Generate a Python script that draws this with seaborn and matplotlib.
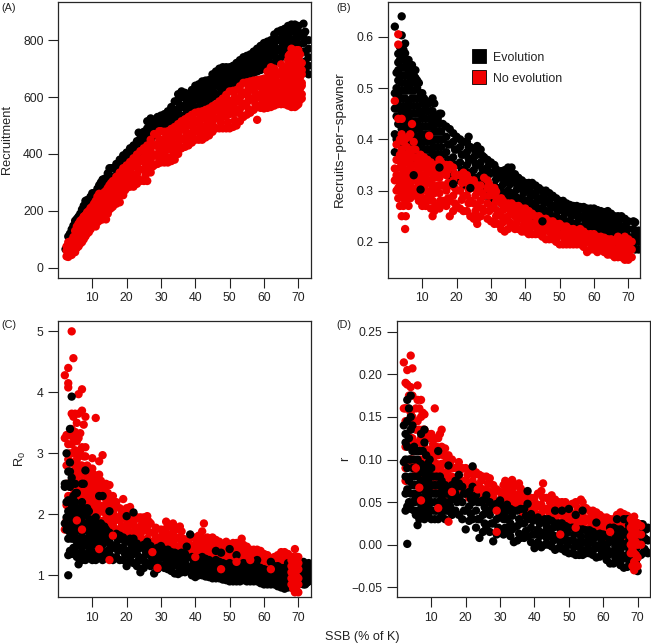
# =====================================================
# SSB VS RECRUITMENT / GROWTH, EVOLUTION AND NO EVOLUTION
# =====================================================

import pandas as pd
import matplotlib
matplotlib.use("Agg")
import matplotlib.pyplot as plt
from matplotlib.lines import Line2D
import seaborn as sns

# -----------------------------
# PANEL A VALUES
# -----------------------------

a_evo_x = [2.2, 3, 4, 5, 6, 7, 8, 9, 10, 11, 12, 13, 14, 15, 16, 18, 20, 22, 23.5, 24, 26, 28, 30, 32, 34, 36, 38, 40, 42, 44, 46, 48, 50, 52, 54, 56, 58, 60, 62, 64, 66, 68, 70, 71.5, 73]
a_evo_y = [[65], [80, 110], [105, 135], [130, 165], [150, 180], [170, 205], [190, 235], [205, 240], [225, 262], [240, 265], [255, 290], [270, 310], [285, 315], [300, 350], [310, 350],
           [335, 355, 380], [365, 385, 405], [390, 410, 430], [475], [410, 435, 455], [440, 470, 490, 515], [465, 495, 520], [490, 515, 535], [500, 525, 550], [505, 530, 555, 585],
           [530, 565, 600, 620], [540, 570, 600], [560, 590, 615, 640], [575, 600, 630, 655], [590, 620, 640, 660], [605, 640, 665, 690], [620, 650, 680, 705], [630, 660, 685, 705],
           [650, 675, 700, 720], [665, 690, 715, 740], [680, 705, 730, 750], [690, 715, 745, 770], [700, 730, 760, 790], [715, 745, 775, 800], [730, 765, 800, 830], [750, 780, 810, 840],
           [770, 800, 830, 855], [780, 810, 830, 850], [700, 760, 790, 820, 858], [680, 710, 740, 770, 800]]

a_evo2_x = [3.5, 4.5, 5.5, 6.5, 7.5, 8.5, 9.5, 10.5, 11.5, 12.5, 13.5, 14.5, 15.5, 17, 19, 21, 23, 25, 27, 29, 31, 33, 35, 37, 39, 41, 43, 45, 47, 49, 51, 53, 55, 57, 59, 61, 63, 65, 67, 69, 72]
a_evo2_y = [[95, 120], [118, 148], [140, 172], [160, 190], [180, 218], [198, 238], [215, 250], [232, 262], [248, 278], [262, 300], [278, 312], [292, 332], [305, 350],
            [325, 345, 365], [350, 372, 395], [378, 400, 420], [400, 425, 445], [425, 450, 478], [450, 480, 510, 525], [475, 505, 530], [495, 520, 540], [505, 535, 565], [520, 555, 590, 610],
            [535, 570, 600, 615], [550, 580, 610, 625], [565, 595, 625, 645], [580, 610, 640, 658], [600, 630, 655, 680], [610, 645, 675, 700], [625, 655, 685, 705], [640, 670, 695, 710],
            [655, 685, 710, 730], [670, 700, 725, 745], [685, 710, 740, 760], [695, 725, 755, 780], [705, 740, 770, 795], [720, 755, 790, 820], [740, 770, 805, 835], [760, 790, 820, 850],
            [775, 805, 835, 855], [690, 725, 760, 800, 830]]

a_evo3_x = [9, 12, 15, 17.5, 19.5, 21.5, 23.5, 25.5, 27.5, 29.5, 31.5, 33.5, 35.5, 37.5, 39.5, 41.5, 43.5, 45.5, 47.5, 49.5, 51.5, 53.5, 55.5, 57.5, 59.5, 61.5, 63.5, 65.5, 67.5, 69.5]
a_evo3_y = [[222], [272], [325], [335, 355], [361, 384], [389, 410], [412, 435], [437, 464], [465, 495, 518], [490, 518], [507, 530], [520, 550], [537, 572, 600], [552, 585, 608], [565, 595, 618],
            [580, 610, 635], [595, 625, 650], [615, 642, 668], [628, 660, 688], [640, 670, 695], [655, 682, 703], [670, 697, 720], [685, 712, 735], [697, 725, 750], [710, 740, 768], [722, 755, 782],
            [738, 772, 805], [755, 788, 820], [775, 805, 835], [790, 820, 845]]

a_noevo_x = [2.5, 3, 4, 5, 6, 7, 8, 9, 10, 11, 12, 13, 14, 15, 16, 18, 20, 22, 24, 26, 28, 29.5, 30, 32, 34, 36, 38, 40, 42, 44, 46, 48, 50, 52, 54, 56, 58, 60, 62, 64, 66, 67, 68, 69, 70, 71]
a_noevo_y = [[40, 60, 75], [38, 55, 90], [45, 70, 95], [55, 80, 105, 130], [75, 100, 130, 155], [90, 115, 140, 170], [110, 135, 160, 185], [125, 150, 180, 200], [145, 165, 190, 215],
             [145, 175, 205, 235], [165, 195, 225, 260], [170, 200, 235, 250], [170, 210, 240, 270], [205, 240, 270, 290], [215, 250, 285, 305], [230, 270, 305, 335], [280, 310, 340, 360],
             [285, 320, 355, 385], [305, 345, 375, 410], [305, 350, 390, 430], [360, 395, 430, 470], [480], [370, 405, 440, 480], [370, 415, 450, 480], [380, 420, 460, 495], [420, 450, 485, 515],
             [430, 465, 500, 530], [450, 480, 510, 545], [450, 490, 525, 550], [465, 500, 535, 560], [490, 525, 555, 575], [490, 530, 565, 595], [490, 540, 575, 620], [500, 545, 585, 625],
             [530, 570, 610, 650], [545, 590, 625, 655], [520, 565, 600, 640, 660], [560, 595, 630, 665], [565, 600, 635, 670, 705], [575, 610, 645, 680], [575, 620, 660, 705],
             [570, 610, 650, 690, 730], [565, 605, 650, 700, 770], [565, 600, 640, 680, 720, 760], [575, 620, 660, 700, 740, 765], [595, 640, 680, 720]]

a_noevo2_x = [3.5, 4.5, 5.5, 6.5, 7.5, 8.5, 9.5, 10.5, 11.5, 12.5, 13.5, 14.5, 15.5, 17, 19, 21, 23, 25, 27, 29, 31, 33, 35, 37, 39, 41, 43, 45, 47, 49, 51, 53, 55, 57, 59, 61, 63, 65, 67.5, 68.5, 69.5, 70.5]
a_noevo2_y = [[50, 72, 92], [55, 80, 108], [70, 95, 125, 145], [85, 110, 135, 165], [100, 125, 150, 180], [120, 145, 170, 195], [135, 160, 185, 210], [150, 175, 200, 225], [160, 185, 215, 250],
              [170, 200, 225, 255], [172, 205, 235, 265], [190, 225, 255, 280], [210, 245, 275, 298], [225, 255, 285, 320], [255, 290, 320, 350], [285, 315, 345, 372], [295, 330, 365, 398],
              [305, 345, 385, 420], [335, 375, 410, 450], [365, 400, 435, 470], [370, 410, 445, 478], [375, 418, 455, 488], [400, 435, 470, 505], [425, 458, 492, 522], [440, 472, 505, 538],
              [450, 485, 518, 548], [458, 495, 530, 555], [478, 512, 545, 568], [490, 528, 560, 585], [490, 535, 570, 608], [495, 542, 580, 622], [515, 558, 598, 638], [538, 580, 618, 652],
              [555, 595, 632, 658], [562, 598, 635, 662], [562, 598, 632, 668, 690], [570, 605, 640, 675, 700], [575, 615, 652, 690, 715], [590, 630, 670, 710, 750], [585, 625, 665, 705, 745],
              [570, 610, 650, 690, 730, 765], [590, 630, 670, 710, 750]]

a_noevo3_x = [5.2, 6.2, 7.2, 8.2, 9.2, 10.2, 11.2, 12.2, 13.2, 14.2, 15.2, 16.2, 17.5, 19.5, 21.5, 23.5, 25.5, 27.5, 29.5, 31.5, 33.5, 35.5, 37.5, 39.5, 41.5, 43.5, 45.5, 47.5, 49.5, 51.5, 53.5, 55.5, 57.5, 59.5, 61.5, 63.5, 65.5, 67.2, 69.2, 71]
a_noevo3_y = [[68, 92, 118], [88, 115, 142], [102, 128, 155], [122, 148, 172], [138, 165, 190], [155, 178, 202], [160, 190, 220], [180, 210, 242], [185, 218, 243], [190, 225, 255], [222, 255, 280], [232, 268, 295],
              [240, 270, 302], [272, 305, 335], [300, 330, 358], [312, 348, 382], [325, 365, 402], [355, 392, 430], [382, 418, 452], [390, 428, 462], [396, 436, 472], [418, 452, 488], [442, 475, 507], [456, 488, 522],
              [468, 502, 533], [476, 512, 543], [495, 528, 556], [509, 544, 572], [512, 552, 590], [518, 561, 600], [536, 578, 618], [558, 600, 635], [575, 613, 645], [580, 616, 648], [580, 615, 650, 680],
              [588, 622, 658, 688], [595, 634, 672, 702], [595, 630, 670, 710, 745], [585, 620, 660, 700, 740, 760], [610, 650, 695]]

# -----------------------------
# PANEL B VALUES
# -----------------------------

b_evo_x = [2, 3, 4, 5, 6, 7, 8, 9, 10, 11, 12, 13, 14, 15, 16, 18, 20, 22, 23.5, 24, 26, 28, 30, 32, 34, 36, 38, 40, 42, 44, 46, 48, 50, 52, 54, 56, 58, 60, 62, 64, 66, 68, 70, 71.5, 73]
b_evo_y = [[.375, .41, .46, .49, .62], [.43, .46, .49, .515, .535, .55, .567], [.39, .42, .45, .48, .51, .54, .56, .603, .64], [.39, .42, .45, .48, .51, .54, .568, .587],
           [.38, .41, .44, .47, .50, .53, .555], [.36, .39, .42, .45, .48, .51, .545], [.36, .39, .42, .45, .48, .52, .535], [.36, .39, .42, .45, .48, .51], [.35, .38, .41, .44, .47, .49],
           [.35, .38, .41, .44, .465], [.35, .38, .41, .44, .47], [.34, .37, .40, .43, .455, .48], [.34, .37, .40, .43], [.34, .37, .40, .43, .45], [.34, .37, .40, .43], [.33, .36, .39, .42],
           [.32, .35, .38, .405], [.31, .34, .37, .395], [.405], [.31, .335, .36, .385], [.30, .325, .35, .37, .387], [.29, .315, .34, .365], [.285, .31, .335, .355], [.28, .305, .33],
           [.27, .295, .32, .34], [.27, .295, .32, .345], [.26, .285, .31, .325], [.255, .28, .30, .315], [.25, .275, .295, .315], [.245, .265, .285, .305], [.24, .26, .28, .30],
           [.23, .25, .27, .29], [.225, .245, .265, .28], [.22, .24, .26, .275], [.215, .235, .255, .27], [.21, .23, .25, .268], [.21, .23, .25, .265], [.205, .225, .245, .265],
           [.205, .225, .245, .26], [.20, .22, .24, .26], [.20, .22, .235, .25], [.195, .215, .23, .25], [.195, .21, .225, .24], [.19, .21, .225, .24], [.185, .20, .215, .222]]

b_evo2_x = [2.5, 3.5, 4.5, 5.5, 6.5, 7.5, 8.5, 9.5, 10.5, 11.5, 12.5, 13.5, 14.5, 15.5, 17, 19, 21, 23, 25, 27, 29, 31, 33, 35, 37, 39, 41, 43, 45, 47, 49, 51, 53, 55, 57, 59, 61, 63, 65, 67, 69, 72]
b_evo2_y = [[.40, .445, .475, .50, .53], [.405, .435, .465, .495, .525, .555, .58], [.405, .435, .465, .495, .525, .555, .575], [.395, .425, .455, .495, .525, .55], [.375, .405, .435, .465, .495, .52, .54],
            [.375, .405, .435, .465, .495, .525], [.375, .405, .435, .465, .50, .515], [.365, .395, .425, .455, .49], [.365, .395, .425, .455, .48], [.365, .395, .425, .455], [.365, .395, .425, .455, .475],
            [.355, .385, .415, .445, .47], [.355, .385, .415, .44], [.355, .385, .415, .45], [.345, .375, .405, .425], [.335, .365, .395, .412], [.325, .355, .385, .40], [.32, .35, .375, .395],
            [.31, .34, .365, .382], [.30, .33, .355, .38], [.29, .32, .345, .36], [.28, .31, .335, .35], [.275, .30, .325, .338], [.27, .30, .325, .345], [.265, .29, .315, .332], [.26, .285, .305, .32],
            [.25, .275, .30, .315], [.245, .27, .29, .31], [.24, .265, .285, .30], [.235, .255, .275, .295], [.23, .25, .27, .285], [.225, .245, .265, .28], [.22, .24, .26, .272], [.215, .235, .255, .27],
            [.21, .23, .25, .268], [.205, .225, .245, .265], [.205, .225, .245, .262], [.20, .22, .24, .258], [.20, .22, .24, .255], [.195, .215, .235, .25], [.195, .215, .23, .245], [.185, .205, .22, .238]]

b_evo3_x = [17.5, 19.5, 21.5, 23.5, 25.5, 27.5, 29.5, 31.5, 33.5, 35.5, 37.5, 39.5, 41.5, 43.5, 45.5, 47.5, 49.5, 51.5, 53.5, 55.5, 57.5, 59.5, 61.5, 63.5, 65.5, 67.5, 69.5]
b_evo3_y = [[.36, .39], [.35, .38], [.34, .37], [.335, .362, .385], [.325, .352, .374], [.315, .342, .368], [.305, .332, .352], [.295, .322, .342], [.288, .312, .332], [.285, .312, .335], [.278, .302, .325],
            [.272, .295, .312], [.262, .288, .308], [.258, .28, .30], [.252, .275, .292], [.245, .265, .285], [.24, .26, .278], [.235, .255, .272], [.23, .25, .266], [.225, .245, .262], [.22, .24, .26],
            [.215, .235, .255], [.215, .235, .254], [.21, .23, .25], [.21, .23, .248], [.205, .225, .243], [.205, .222, .238]]

b_noevo_x = [2, 3, 4, 5, 6, 7, 8, 9, 10, 11, 12, 13, 14, 15, 16, 18, 20, 22, 24, 26, 28, 30, 32, 34, 36, 38, 40, 42, 44, 46, 48, 50, 52, 54, 56, 58, 60, 62, 64, 66, 68, 69, 70, 71]
b_noevo_y = [[.32, .343, .475], [.285, .305, .33, .36, .44, .585, .605], [.25, .29, .32, .35, .38, .41, .44], [.225, .28, .31, .34, .37, .40], [.27, .30, .33, .36, .405], [.29, .32, .35, .38, .43],
             [.29, .32, .35, .38], [.28, .31, .34, .36], [.27, .30, .33, .36], [.27, .30, .33, .355], [.29, .32, .35, .407], [.25, .28, .31, .34], [.27, .30, .33, .35], [.265, .295, .325, .36],
             [.28, .31, .34], [.25, .28, .31, .35], [.27, .30, .33], [.26, .29, .32, .335], [.25, .28, .31], [.235, .245, .27, .30], [.26, .29, .325], [.24, .27, .30], [.235, .26, .285],
             [.22, .245, .27], [.23, .255, .275], [.225, .25, .27], [.22, .245, .265], [.215, .235, .255], [.215, .235, .25], [.205, .225, .245], [.205, .225, .24], [.195, .215, .235],
             [.195, .215, .23], [.195, .21, .225], [.195, .21, .225], [.18, .20, .215], [.185, .20, .215], [.185, .20, .21], [.175, .19, .205], [.17, .185, .20], [.17, .185, .205],
             [.165, .18, .195, .21], [.165, .18, .195, .205], [.17, .185, .20]]

b_noevo2_x = [2.5, 3.5, 4.5, 5.5, 6.5, 7.5, 8.5, 9.5, 10.5, 11.5, 12.5, 13.5, 14.5, 15.5, 17, 19, 21, 23, 25, 27, 29, 31, 33, 35, 37, 39, 41, 43, 45, 47, 49, 51, 53, 55, 57, 59, 61, 63, 65, 67, 68.5, 69.5]
b_noevo2_y = [[.30, .33, .36, .39], [.27, .31, .345, .37, .40], [.27, .30, .335, .365, .395], [.29, .325, .355, .385], [.285, .315, .345, .375, .41], [.30, .335, .365, .395], [.30, .335, .365],
              [.29, .325, .35, .37], [.28, .315, .345, .365], [.28, .315, .34, .36], [.265, .30, .335, .355], [.26, .295, .325, .345], [.27, .31, .34], [.275, .31, .335, .355], [.27, .30, .33, .35],
              [.26, .29, .32, .345], [.265, .30, .33], [.26, .29, .315, .33], [.245, .275, .305, .32], [.25, .28, .31], [.245, .275, .305, .32], [.235, .265, .29, .305], [.225, .25, .275, .285],
              [.225, .25, .275], [.225, .25, .27], [.22, .245, .265], [.215, .24, .26], [.215, .235, .25], [.21, .23, .245], [.205, .225, .24], [.20, .22, .235], [.195, .215, .23], [.195, .21, .225],
              [.195, .21, .222], [.19, .205, .22], [.185, .20, .215], [.18, .195, .21], [.18, .195, .208], [.175, .19, .205], [.17, .185, .20, .21], [.175, .19, .205], [.17, .185, .20]]

b_noevo3_x = [5.2, 7.2, 9.2, 11.2, 13.2, 15.2, 17.5, 19.5, 21.5, 23.5, 25.5, 27.5, 29.5, 31.5, 33.5, 35.5, 37.5, 39.5, 41.5, 43.5, 45.5, 47.5, 49.5, 51.5, 53.5, 55.5, 57.5, 59.5, 61.5, 63.5, 65.5, 67.5, 69.2]
b_noevo3_y = [[.25, .295, .325, .355], [.305, .335, .365], [.295, .325, .35], [.285, .315, .342], [.265, .295, .325], [.28, .31, .342], [.285, .315, .34], [.275, .305, .332], [.282, .315], [.275, .302, .322],
              [.26, .29, .312], [.265, .295], [.26, .29, .312], [.25, .278, .298], [.238, .262, .28], [.238, .262], [.238, .26], [.232, .255], [.228, .25], [.225, .243], [.22, .238], [.215, .232], [.21, .228],
              [.205, .222], [.202, .218], [.202, .216], [.198, .212], [.192, .208], [.188, .203], [.188, .202], [.182, .198], [.178, .192, .205], [.172, .188, .2]]

# black points that sit on top of the red ones
b_late_x = [7.5, 9.5, 15, 19, 24, 45]
b_late_y = [[.33], [.302], [.345], [.313], [.305], [.24]]

# -----------------------------
# PANEL C VALUES
# -----------------------------

c_noevo_x = [2, 2.5, 3, 4, 4.5, 5, 6, 6.5, 7, 7.5, 8, 9, 10, 11, 12, 13, 14, 15, 16, 17, 19, 21, 23, 25, 26, 28, 30, 31.5, 33.5, 35.5, 37, 39, 41, 42.5, 45, 47, 49, 51, 53.5, 55, 57, 59, 61, 63, 65, 67]
c_noevo_y = [[4.28, 3.25, 1.75], [3.3], [4.4, 4.15, 4.08, 3.15, 2.9, 2.3], [5.0, 3.65, 3.4, 3.15, 2.85, 2.55, 2.3, 2.05], [4.56, 3.6], [3.65, 3.35, 3.05, 2.8, 2.55, 2.3, 2.05],
             [3.97, 3.65, 3.25, 2.95, 2.7, 2.4, 2.15], [3.33], [4.05, 3.7, 3.1, 2.8, 2.5, 2.2], [3.47], [3.6, 3.1, 2.95, 2.7, 2.4, 2.15, 1.9], [2.7, 2.45, 2.2, 1.95], [2.92, 2.75, 2.5, 2.25, 2.0],
             [3.58, 2.6, 2.35, 2.1, 1.85], [2.87, 2.65, 2.4, 2.15, 1.9], [2.97, 2.5, 2.3, 2.05, 1.8], [2.5, 2.25, 2.0, 1.8], [2.48, 2.2, 1.95, 1.75], [2.3, 2.05, 1.85, 1.7], [2.2, 1.95, 1.75],
             [2.25, 2.0, 1.8, 1.65], [2.12, 1.9, 1.7, 1.55], [1.95, 1.75, 1.6], [1.95, 1.75, 1.55], [1.97, 1.8, 1.6], [1.7, 1.55, 1.4], [1.75, 1.6, 1.45], [1.88, 1.7, 1.55], [1.85, 1.7, 1.55, 1.4],
             [1.8, 1.62, 1.48, 1.35], [1.55, 1.4], [1.62, 1.48, 1.35], [1.65, 1.5, 1.35], [1.85, 1.6, 1.45, 1.3], [1.62, 1.48, 1.33], [1.55, 1.4, 1.25], [1.55, 1.4, 1.28], [1.53, 1.38, 1.25],
             [1.6, 1.45, 1.3], [1.47, 1.33, 1.2], [1.42, 1.28, 1.15], [1.4, 1.27, 1.15], [1.33, 1.2, 1.05], [1.3, 1.17, 1.03], [1.38, 1.25, 1.1], [1.35, 1.2, 1.05]]

c_noevo2_x = [2.5, 3.5, 4.5, 5.5, 6.5, 7.5, 8.5, 9.5, 10.5, 11.5, 12.5, 13.5, 14.5, 15.5, 16.5, 18, 20, 22, 24, 27, 29, 31, 32.5, 34.5, 36.5, 38, 40, 43.5, 46, 48, 50, 52, 54, 56, 58, 60, 62, 64, 66]
c_noevo2_y = [[2.8, 2.5, 2.15, 1.9], [3.3, 3.0, 2.7, 2.45, 2.2, 2.0], [3.25, 3.0, 2.7, 2.42, 2.15], [3.5, 3.2, 2.9, 2.65, 2.4, 2.15], [3.05, 2.8, 2.55, 2.25], [2.95, 2.65, 2.35, 2.05], [2.8, 2.55, 2.3, 2.05],
              [2.6, 2.35, 2.1, 1.85], [2.65, 2.4, 2.15, 1.9], [2.5, 2.25, 2.0], [2.55, 2.3, 2.05, 1.85], [2.4, 2.15, 1.9], [2.35, 2.1, 1.85], [2.2, 2.0, 1.8], [2.15, 1.9], [2.1, 1.9, 1.7], [2.1, 1.9, 1.7],
              [2.0, 1.85, 1.65], [1.95, 1.8, 1.65], [1.85, 1.7, 1.55], [1.62, 1.48], [1.75, 1.6, 1.45], [1.8, 1.62, 1.48], [1.75, 1.6, 1.45], [1.6, 1.45], [1.58, 1.42], [1.62, 1.48, 1.35], [1.62, 1.5, 1.35],
              [1.58, 1.42, 1.28], [1.5, 1.35], [1.48, 1.32], [1.53, 1.4, 1.28], [1.5, 1.35, 1.22], [1.42, 1.3], [1.42, 1.28, 1.15], [1.35, 1.22, 1.1], [1.28, 1.15], [1.33, 1.2, 1.08], [1.38, 1.25, 1.12]]

c_noevo3_x = [16.2, 18.5, 20.5, 22.5, 24.5, 26.5, 28.5, 30.5, 32, 34, 36, 38.5, 40.5, 42, 44.5, 46.5, 48.5, 50.5, 52.5, 54.5, 56.5, 58.5, 60.5, 62.5, 64.5, 66.5]
c_noevo3_y = [[2.0, 1.78], [2.0, 1.8], [2.0, 1.8, 1.62], [1.92, 1.75, 1.6], [1.88, 1.72, 1.58], [1.88, 1.7, 1.55], [1.78, 1.62, 1.48], [1.68, 1.52], [1.8, 1.65, 1.5], [1.78, 1.63, 1.48], [1.72, 1.55, 1.4],
              [1.5, 1.38], [1.55, 1.42], [1.72, 1.55, 1.4], [1.55, 1.42], [1.5, 1.35], [1.42, 1.3], [1.42, 1.28], [1.46, 1.33], [1.42, 1.28], [1.36, 1.24], [1.35, 1.22], [1.28, 1.16], [1.22, 1.1], [1.26, 1.14], [1.3, 1.18]]

c_evo_x = [2, 2.5, 3, 3.5, 4, 5, 6, 7, 8, 9, 10, 11, 12, 13, 14, 15, 16, 18, 20, 22, 24, 26, 28, 30, 32, 34, 36, 37.5, 38.5, 40, 42, 44, 46, 47.5, 48, 50, 52, 54, 56, 58, 60, 62, 64, 66, 68, 70, 71, 72, 73]
c_evo_y = [[2.5, 2.45, 1.85], [3.0, 1.95], [1.0, 1.33, 1.6, 1.8, 2.05, 2.23, 2.5, 2.7], [3.4, 2.85], [3.93, 1.35, 1.6, 1.85, 2.1, 2.6], [1.45, 1.7, 1.95, 2.2, 2.5], [1.18, 1.35, 1.6, 1.85, 2.1],
           [1.25, 1.45, 1.7, 1.95, 2.2, 2.5], [1.25, 1.5, 1.75, 2.0, 2.72], [1.3, 1.55, 1.8, 2.05], [1.25, 1.5, 1.7, 1.9], [1.25, 1.5, 1.7, 1.95], [1.3, 1.55, 1.75, 2.3], [1.25, 1.5, 1.7, 2.3],
           [1.3, 1.55, 1.75], [1.35, 1.55, 1.7, 2.05], [1.25, 1.45, 1.65], [1.25, 1.45, 1.65], [1.15, 1.35, 1.55, 1.97], [1.2, 1.4, 1.6, 2.03], [1.05, 1.25, 1.45], [1.2, 1.4, 1.55],
           [1.03, 1.22, 1.42], [1.15, 1.3, 1.48], [1.1, 1.25, 1.42], [1.03, 1.2, 1.37], [1.05, 1.2, 1.37], [1.1, 1.3, 1.47], [1.67], [.97, 1.12, 1.27], [1.0, 1.15, 1.3], [.97, 1.1, 1.25],
           [.95, 1.1, 1.25, 1.4], [1.37], [.93, 1.05, 1.2], [.9, 1.05, 1.2, 1.43], [.9, 1.05, 1.33], [.92, 1.05, 1.2], [.9, 1.03, 1.17], [.9, 1.02, 1.15, 1.25], [.85, .97, 1.1],
           [.85, .97, 1.1, 1.22], [.82, .92, 1.03, 1.15], [.78, .88, 1.0, 1.12], [.8, .9, 1.05, 1.2], [.85, .95, 1.1], [.9, 1.0, 1.1, 1.2], [.85, .95, 1.05, 1.15], [.9, 1.0, 1.1, 1.2]]

c_evo2_x = [2.5, 3.5, 4.5, 5.5, 6.5, 7.5, 8.5, 9.5, 10.5, 11.5, 12.5, 13.5, 14.5, 15.5, 17, 19, 21, 23, 25, 27, 29, 31, 33, 35, 37, 39, 41, 43, 45, 47, 49, 51, 53, 55, 57, 59, 61, 63, 65, 67, 71.5, 72.5]
c_evo2_y = [[1.75, 2.2, 2.5], [1.4, 1.7, 1.95, 2.2, 2.45, 2.7], [1.45, 1.75, 2.0, 2.3], [1.3, 1.55, 1.8, 2.05, 2.35], [1.25, 1.5, 1.75, 2.0], [1.35, 1.6, 1.85, 2.1, 2.5], [1.35, 1.6, 1.85, 2.1],
            [1.4, 1.65, 1.85], [1.35, 1.6, 1.8], [1.35, 1.6, 1.85], [1.4, 1.65, 1.85], [1.35, 1.6, 1.8], [1.4, 1.65], [1.3, 1.5, 1.65], [1.3, 1.5, 1.68], [1.25, 1.45, 1.62], [1.25, 1.42, 1.6],
            [1.15, 1.35, 1.52], [1.12, 1.3, 1.5], [1.15, 1.32, 1.48], [1.1, 1.28, 1.45], [1.12, 1.28, 1.42], [1.07, 1.22, 1.38], [1.02, 1.18, 1.35], [1.05, 1.2, 1.35], [1.0, 1.15, 1.3], [1.0, 1.15, 1.28],
            [.98, 1.12, 1.27], [.95, 1.08, 1.22], [.95, 1.08, 1.22], [.92, 1.05, 1.18], [.9, 1.03, 1.15], [.9, 1.03, 1.15], [.9, 1.03, 1.15], [.9, 1.02, 1.14], [.87, 1.0, 1.12], [.85, .97, 1.08],
            [.85, .95, 1.05, 1.15], [.8, .9, 1.0, 1.12], [.8, .9, 1.0, 1.1, 1.2], [.85, .95, 1.05, 1.15, 1.22], [.88, .98, 1.08, 1.18]]

c_evo3_x = [5.2, 7.2, 9.2, 11.2, 13.2, 15.2, 17.5, 19.5, 21.5, 23.5, 25.5, 27.5, 29.5, 31.5, 33.5, 35.5, 37.5, 39.5, 41.5, 43.5, 45.5, 47.5, 49.5, 51.5, 53.5, 55.5, 57.5, 59.5, 61.5, 63.5, 65.5]
c_evo3_y = [[1.58, 1.82, 2.08, 2.35], [1.35, 1.58, 1.82, 2.08], [1.42, 1.68, 1.92], [1.38, 1.6, 1.82], [1.38, 1.6], [1.45, 1.62], [1.4, 1.58], [1.35, 1.55], [1.33, 1.5], [1.25, 1.45], [1.2, 1.4], [1.24, 1.4],
            [1.18, 1.36], [1.2, 1.35], [1.15, 1.3], [1.1, 1.27], [1.12, 1.28], [1.08, 1.22], [1.08, 1.22], [1.05, 1.2], [1.02, 1.15], [1.02, 1.15], [.98, 1.12], [.97, 1.09], [.97, 1.09], [.97, 1.09], [.96, 1.08],
            [.93, 1.06], [.91, 1.02], [.9, 1.0, 1.1], [.85, .95, 1.06]]

# red points that sit on top of the black ones
c_late_x = [5.5, 7, 12, 15, 16, 27.5, 29, 40, 47.5, 52, 56, 62, 68, 68.5, 69, 69.5, 70]
c_late_y = [[1.9], [1.75], [1.43], [1.25], [1.65], [1.38], [1.12], [1.3], [1.1], [1.22], [1.25], [1.1], [.85, .95, 1.05, 1.15, 1.25], [.78, .9, 1.0, 1.1, 1.2, 1.3], [.72, .82, .92, 1.02, 1.12, 1.25, 1.43],
            [.75, .88, .98, 1.08, 1.18, 1.3], [.72, .85, .95, 1.1, 1.2, 1.3]]

# -----------------------------
# PANEL D VALUES
# -----------------------------

d_noevo_x = [2, 2.5, 3, 4, 4.5, 5, 6, 7, 8, 9, 10, 11, 12, 13, 14, 15, 16, 18, 20, 22, 24, 26, 28, 30, 31.5, 33.5, 35.5, 37, 39, 41, 42.5, 45, 47, 49, 51, 53.5, 55, 57, 59, 61, 63, 65, 67]
d_noevo_y = [[.214, .16], [.075, .16], [.205, .188, .16, .13], [.222, .185, .155, .125, .10], [.207, .175], [.145, .12, .095], [.187, .17, .145, .12, .09], [.17, .15, .125, .10, .08],
             [.153, .135, .115, .095, .075], [.13, .11, .09, .072], [.13, .112, .095, .075], [.16, .125, .105, .085, .065], [.125, .105, .085, .07], [.135, .115, .095, .078, .06],
             [.113, .095, .08, .062], [.105, .088, .07, .055], [.10, .08, .065], [.097, .08, .065], [.09, .075, .06], [.09, .075, .06], [.082, .068, .053], [.08, .065, .052], [.07, .057, .045],
             [.062, .05, .04], [.075, .062, .05], [.076, .062, .05, .04], [.072, .06, .048], [.06, .047, .035], [.055, .045, .032], [.06, .045, .033], [.072, .055, .04, .03], [.058, .044, .03],
             [.05, .037, .025], [.05, .037, .025], [.048, .034, .022], [.053, .04, .027], [.043, .03, .018], [.04, .027, .015], [.035, .024, .012], [.032, .02, .008], [.03, .018, .005],
             [.038, .025, .01], [.034, .02, .005]]

d_noevo2_x = [2.5, 3.5, 4.5, 5.5, 6.5, 7.5, 8.5, 9.5, 10.5, 11.5, 12.5, 13.5, 14.5, 15.5, 17, 19, 21, 23, 25, 27, 29, 31, 32.5, 34.5, 36.5, 38, 40, 43.5, 46, 48, 50, 52, 54, 56, 58, 60, 62, 64, 66]
d_noevo2_y = [[.19, .145, .115, .09], [.175, .145, .12, .095], [.15, .125, .10], [.16, .135, .11, .085], [.16, .135, .11, .09], [.155, .135, .115, .09], [.125, .105, .085], [.125, .105, .085, .07],
              [.118, .10, .08], [.115, .095, .075], [.13, .11, .09, .07], [.105, .085, .07], [.10, .08, .065], [.095, .075, .06], [.09, .075, .06], [.09, .075, .06], [.085, .07, .055], [.085, .07, .055],
              [.08, .065, .05], [.078, .062, .05], [.065, .05, .04], [.07, .055, .042], [.073, .06, .046], [.07, .056, .044], [.062, .05, .038], [.055, .042, .03], [.055, .042, .03], [.055, .042, .03],
              [.053, .04, .028], [.05, .035, .022], [.045, .032, .02], [.05, .036, .024], [.05, .035, .02], [.04, .028, .015], [.038, .025, .012], [.032, .02, .008], [.03, .018, .005], [.035, .022, .008],
              [.036, .022, .008]]

d_noevo3_x = [16.2, 18.5, 20.5, 22.5, 24.5, 26.5, 28.5, 30.5, 32, 34, 36, 38.5, 40.5, 42, 44.5, 46.5, 48.5, 50.5, 52.5, 54.5, 56.5, 58.5, 60.5, 62.5, 64.5, 66.5]
d_noevo3_y = [[.09, .072], [.088, .072], [.082, .068], [.082, .068], [.075, .06], [.072, .058], [.063, .05], [.056, .045], [.068, .055], [.068, .055, .045], [.066, .054, .042], [.048, .036], [.048, .036],
              [.063, .047, .035], [.05, .036], [.046, .034], [.042, .028], [.038, .026], [.043, .03], [.042, .027], [.034, .022], [.031, .018], [.026, .014], [.024, .012], [.028, .015], [.029, .015]]

d_evo_x = [2, 2.5, 3, 4, 5, 6, 7, 8, 9, 10, 11, 12, 13, 14, 15, 16, 18, 20, 22, 24, 26, 28, 30, 32, 34, 36, 38, 40, 42, 44, 46, 48, 50, 52, 54, 56, 58, 60, 62, 64, 66, 68, 70, 71, 72, 73]
d_evo_y = [[.14, .097], [.04, .13, .08], [.001, .045, .065, .09, .115, .145, .17], [.042, .06, .08, .10, .135, .15, .175], [.04, .06, .08, .10, .115], [.023, .04, .06, .08, .10],
           [.035, .055, .075, .095, .13], [.03, .05, .07, .09, .12, .135], [.035, .055, .075, .095], [.03, .05, .07, .09], [.03, .05, .07], [.03, .05, .07, .11], [.035, .055, .075],
           [.03, .05, .07], [.04, .06, .093], [.035, .055, .07], [.035, .055, .072, .082], [.018, .04, .06], [.03, .05, .068, .092], [.008, .03, .05], [.02, .04, .058], [.004, .025, .045],
           [.015, .035, .052], [.015, .03, .047], [.003, .02, .04], [.008, .025, .042], [.01, .03, .048, .063], [-.004, .012, .03], [-.003, .012, .028], [.0, .015, .03], [-.006, .01, .025, .04],
           [-.005, .01, .025, .04], [-.01, .005, .02, .042], [-.012, .003, .018, .035], [-.012, .003, .018, .04], [-.01, .003, .017], [-.015, -.002, .012, .026], [-.012, 0, .012],
           [-.022, -.008, .005, .02], [-.02, -.008, .005, .018, .03], [-.027, -.013, .0, .015, .03], [-.022, -.01, .005, .02], [-.031, -.015, 0, .012, .025], [-.012, .002, .014, .024],
           [-.005, .008, .02], [-.01, .005, .02]]

d_evo2_x = [2.5, 3.5, 4.5, 5.5, 6.5, 7.5, 8.5, 9.5, 10.5, 11.5, 12.5, 13.5, 14.5, 15.5, 17, 19, 21, 23, 25, 27, 29, 31, 33, 35, 37, 39, 41, 43, 45, 47, 49, 51, 53, 55, 57, 59, 61, 63, 65, 67, 69, 71.5, 72.5]
d_evo2_y = [[.06, .10, .12], [.05, .075, .10, .125, .16], [.05, .07, .09, .11, .14], [.035, .055, .07, .09, .11], [.03, .05, .07, .09, .11], [.04, .065, .085, .11], [.04, .06, .08, .105], [.04, .06, .08, .10],
            [.04, .06, .08], [.04, .06, .08], [.04, .06, .08], [.045, .065], [.04, .06], [.045, .065], [.04, .06, .075], [.03, .05, .068], [.028, .045, .062], [.02, .04, .058], [.015, .035, .052], [.015, .035, .05],
            [.012, .03, .048], [.012, .03, .045], [.01, .025, .042], [.005, .022, .04], [.008, .025, .042], [.003, .02, .036], [.003, .018, .032], [.0, .015, .03], [-.002, .012, .028], [-.004, .01, .025],
            [-.008, .006, .022], [-.01, .005, .02], [-.012, .003, .018], [-.01, .003, .017], [-.012, .002, .015], [-.014, 0, .013], [-.018, -.005, .01], [-.022, -.008, .005, .02], [-.024, -.01, .004, .018],
            [-.026, -.012, .002, .016, .03], [-.028, -.012, .002, .016], [-.01, .004, .016, .024], [-.008, .006, .018]]

d_evo3_x = [5.2, 7.2, 9.2, 11.2, 13.2, 15.2, 17.5, 19.5, 21.5, 23.5, 25.5, 27.5, 29.5, 31.5, 33.5, 35.5, 37.5, 39.5, 41.5, 43.5, 45.5, 47.5, 49.5, 51.5, 53.5, 55.5, 57.5, 59.5, 61.5, 63.5, 65.5, 67.5, 69.5]
d_evo3_y = [[.05, .07, .09], [.045, .065, .085], [.045, .065, .085], [.04, .06], [.045, .065], [.05], [.05, .068], [.04, .06], [.036, .054], [.03, .05], [.025, .044], [.025, .042], [.02, .04], [.02, .038],
            [.018, .034], [.013, .03], [.016, .034], [.012, .028], [.01, .025], [.008, .022], [.005, .02], [.003, .018], [-.001, .014], [-.003, .012], [-.005, .01], [-.004, .01], [-.005, .008], [-.007, .006],
            [-.012, .002], [-.015, -.002, .012], [-.017, -.003, .011], [-.019, -.005, .009, .023], [-.02, -.005, .009]]

# red points that sit on top of the black ones
d_late_x = [5.5, 6.5, 7, 12, 15, 16, 23.5, 29, 47.5, 52, 62, 68, 68.5, 69, 69.5, 70, 71]
d_late_y = [[.09], [.067], [.052], [.043], [.027], [.062], [.065], [.015, .04], [.012], [.02], [.015], [-.01, 0, .01, .02, .03], [-.025, -.005, .005, .015, .025], [-.03, -.02, -.01, 0, .01, .02, .033],
            [-.025, -.012, .003, .015, .026], [-.025, -.015, 0, .012, .025], [.0, .012, .022]]

# -----------------------------
# TEXT AND TICKS
# -----------------------------

group_names = ["Evolution", "No evolution"]
group_colors = ["#000000", "#f00000"]
x_ticks = [10, 20, 30, 40, 50, 60, 70]
a_ticks = [0, 200, 400, 600, 800]
b_ticks = [0.2, 0.3, 0.4, 0.5, 0.6]
c_ticks = [1, 2, 3, 4, 5]
d_ticks = [-0.05, 0.00, 0.05, 0.10, 0.15, 0.20, 0.25]
d_tick_labels = ["\u22120.05", "0.00", "0.05", "0.10", "0.15", "0.20", "0.25"]

# -----------------------------
# THEME
# -----------------------------

sns.set_theme(style="ticks")
plt.rcParams["font.family"] = ["Liberation Sans", "DejaVu Sans"]
plt.rcParams["mathtext.default"] = "regular"
plt.rcParams["axes.linewidth"] = 0.9

W, H = 651, 644
fig = plt.figure(figsize=(W / 100, H / 100), dpi=100)
palette = dict(zip(group_names, group_colors))


def make_axes(left, right, top, bottom):
    return fig.add_axes([left / W, 1 - bottom / H, (right - left) / W, (bottom - top) / H])


def long_rows(xs, ys, name):
    rows = pd.DataFrame({"x": xs, "y": ys, "group": name}).explode("y")
    rows["y"] = rows["y"].astype(float)
    return rows


def draw_panel(ax, layers, xlim, ylim, yticks, ylabel, label_x, label_size=9.2):
    # row order is the drawing order, so layers can overlap each other
    data = pd.concat([long_rows(*layer) for layer in layers], ignore_index=True)
    sns.scatterplot(data=data, x="x", y="y", hue="group", palette=palette,
                    s=36, linewidth=0, alpha=1, legend=False, ax=ax)
    ax.set_xlim(xlim)
    ax.set_ylim(ylim)
    ax.set_xticks(x_ticks)
    ax.set_yticks(yticks)
    ax.set_xlabel("")
    ax.set_ylabel(ylabel, fontsize=label_size, color="#222222")
    ax.yaxis.set_label_coords(label_x, 0.5)
    ax.tick_params(length=7.5, width=0.8, labelsize=8.8, pad=3, labelcolor="#222222", color="#222222")


# -----------------------------
# PANELS
# -----------------------------

ax_a = make_axes(58.3, 310.7, 1.5, 277.7)
draw_panel(ax_a,
           [(a_evo_x, a_evo_y, "Evolution"), (a_evo2_x, a_evo2_y, "Evolution"), (a_evo3_x, a_evo3_y, "Evolution"),
            (a_noevo_x, a_noevo_y, "No evolution"), (a_noevo2_x, a_noevo2_y, "No evolution"), (a_noevo3_x, a_noevo3_y, "No evolution")],
           (0.1, 73.6), (-35, 936), a_ticks, "Recruitment", -0.18)

ax_b = make_axes(388.3, 640.3, 1.5, 277.7)
draw_panel(ax_b,
           [(b_evo_x, b_evo_y, "Evolution"), (b_evo2_x, b_evo2_y, "Evolution"), (b_evo3_x, b_evo3_y, "Evolution"),
            (b_noevo_x, b_noevo_y, "No evolution"), (b_noevo2_x, b_noevo2_y, "No evolution"), (b_noevo3_x, b_noevo3_y, "No evolution"),
            (b_late_x, b_late_y, "Evolution")],
           (0.1, 73.5), (0.130, 0.669), b_ticks, "Recruits\u2212per\u2212spawner", -0.168, label_size=9.7)

ax_c = make_axes(58.3, 310.7, 321, 597.3)
draw_panel(ax_c,
           [(c_noevo_x, c_noevo_y, "No evolution"), (c_noevo2_x, c_noevo2_y, "No evolution"), (c_noevo3_x, c_noevo3_y, "No evolution"),
            (c_evo_x, c_evo_y, "Evolution"), (c_evo2_x, c_evo2_y, "Evolution"), (c_evo3_x, c_evo3_y, "Evolution"),
            (c_late_x, c_late_y, "No evolution")],
           (0.1, 73.6), (0.639, 5.17), c_ticks, "R$_0$", -0.12)

ax_d = make_axes(397.3, 650, 321, 597.3)
draw_panel(ax_d,
           [(d_noevo_x, d_noevo_y, "No evolution"), (d_noevo2_x, d_noevo2_y, "No evolution"), (d_noevo3_x, d_noevo3_y, "No evolution"),
            (d_evo_x, d_evo_y, "Evolution"), (d_evo2_x, d_evo2_y, "Evolution"), (d_evo3_x, d_evo3_y, "Evolution"),
            (d_late_x, d_late_y, "No evolution")],
           (0.1, 73.6), (-0.0617, 0.2626), d_ticks, "r", -0.183)
ax_d.set_yticks(d_ticks, d_tick_labels)

# -----------------------------
# LEGEND
# -----------------------------

handles = [
    Line2D([], [], linestyle="", marker="s", markersize=9.5, markerfacecolor=group_colors[0], markeredgecolor="#000000", markeredgewidth=0.6),
    Line2D([], [], linestyle="", marker="s", markersize=9.5, markerfacecolor=group_colors[1], markeredgecolor="#000000", markeredgewidth=0.6),
]
ax_b.legend(handles, group_names, loc="upper left", bbox_to_anchor=(0.311, 0.818), frameon=False,
            fontsize=8.9, labelspacing=0.73, handletextpad=0.13, labelcolor="#222222", borderaxespad=0, borderpad=0)

# -----------------------------
# PANEL LETTERS AND SHARED LABEL
# -----------------------------

for letter, px, py in [("(A)", 1, 8), ("(B)", 336, 8), ("(C)", 1, 325), ("(D)", 336, 325)]:
    fig.text(px / W, 1 - py / H, letter, fontsize=7.8, color="#222222", va="center")

fig.text(362 / W, 1 - 637 / H, "SSB (% of K)", fontsize=9.1, color="#222222", ha="center", va="center")

fig.savefig("out.png", dpi=100)
